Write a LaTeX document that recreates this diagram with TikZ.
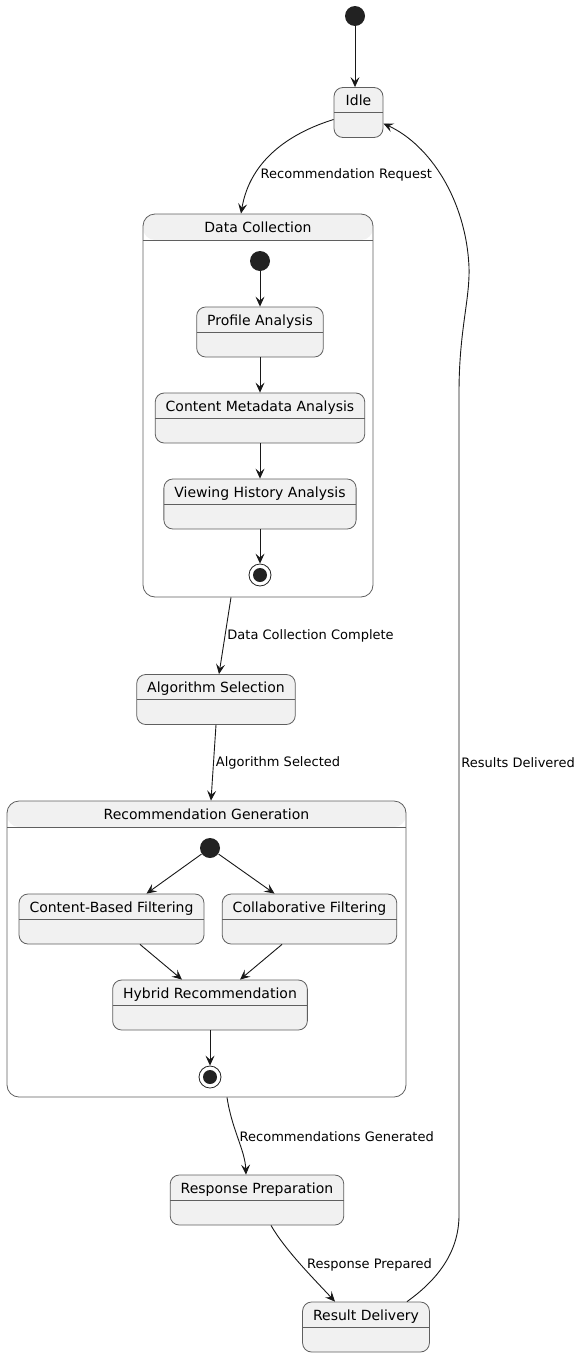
\documentclass[tikz,border=0pt]{standalone}
\usepackage{fontspec}
\setmainfont{DejaVu Sans}
\usetikzlibrary{arrows.meta}
\definecolor{stfill}{HTML}{F1F1F1}
\definecolor{stline}{HTML}{5F5F5F}
\definecolor{dotcol}{HTML}{222222}
\definecolor{arrcol}{HTML}{181818}
\tikzset{>={Stealth[length=10pt,width=9pt,inset=4pt]}}
\tikzstyle{state} = [draw=stline, fill=stfill, rectangle, rounded corners=9pt,
    minimum width=49pt, minimum height=50pt, inner xsep=10.5pt, inner ysep=5pt,
    text height=13pt, text depth=27pt, line width=0.8pt,
    font=\fontsize{14}{16}\selectfont,
    path picture={\draw[stline, line width=0.8pt]
        ([yshift=-25pt]path picture bounding box.north west) --
        ([yshift=-25pt]path picture bounding box.north east);}]
\tikzstyle{compound} = [draw=stline, fill=white, rectangle, rounded corners=12pt,
    inner ysep=5pt, text height=13pt, line width=0.8pt,
    font=\fontsize{14}{16}\selectfont,
    path picture={\fill[stfill]
        (path picture bounding box.north west) rectangle
        ([yshift=-26pt]path picture bounding box.north east);
      \draw[stline, line width=0.8pt]
        ([yshift=-26pt]path picture bounding box.north west) --
        ([yshift=-26pt]path picture bounding box.north east);}]
\tikzstyle{init} = [circle, fill=dotcol, minimum size=20pt, inner sep=0pt]
\tikzstyle{final} = [circle, draw=dotcol, fill=white, minimum size=22pt,
    inner sep=0pt, line width=0.8pt,
    path picture={\fill[dotcol] (path picture bounding box.center) circle (7pt);}]
\tikzstyle{lbl} = [font=\fontsize{13}{15}\selectfont, anchor=west, inner sep=2pt]

\begin{document}
\begin{tikzpicture}[x=1pt, y=-1pt, line width=0.9pt]
    \useasboundingbox (0,0) rectangle (581,1357);
    % We start by placing the outer states
    \node [init] (start) at (355,16) {};
    \node [state] (idle) at (358.5,112.5) {Idle};
    \node [compound, minimum width=230pt, text depth=360pt] (collect) at (258,405.5) {Data Collection};
    \node [state] (algo) at (216,699.5) {Algorithm Selection};
    \node [compound, minimum width=399pt, text depth=273pt] (generate) at (206.5,949) {Recommendation Generation};
    \node [state] (prepare) at (257,1200) {Response Preparation};
    \node [state] (deliver) at (366,1327) {Result Delivery};

    % Inner states of the data collection
    \node [init] (cstart) at (260,261) {};
    \node [state] (profile) at (260,332) {Profile Analysis};
    \node [state] (meta) at (260,418) {Content Metadata Analysis};
    \node [state] (history) at (260,504) {Viewing History Analysis};
    \node [final] (cend) at (260,575) {};

    % Inner states of the recommendation generation
    \node [init] (gstart) at (210,848) {};
    \node [state] (content) at (111.5,919) {Content-Based Filtering};
    \node [state] (collab) at (309.5,919) {Collaborative Filtering};
    \node [state] (hybrid) at (210,1005) {Hybrid Recommendation};
    \node [final] (gend) at (210,1077) {};

    % Once the states are placed, connecting them is easy.
    \begin{scope}[draw=arrcol]
    \draw [->] (start) -- (start |- idle.north);
    \draw [->] ([yshift=-7pt]idle.west) .. controls (290,133) and (250,160) ..
        node [lbl, pos=0.72, xshift=3pt] {Recommendation Request} ([xshift=-17pt]collect.north);
    \draw [->] ([xshift=-27pt]collect.south) --
        node [lbl, pos=0.5] {Data Collection Complete} ([xshift=3pt]algo.north);
    \draw [->] (algo.south) --
        node [lbl, pos=0.5] {Algorithm Selected} ([xshift=4.5pt]generate.north);
    \draw [->] ([xshift=20.5pt]generate.south) .. controls (232,1130) and (245,1150) ..
        node [lbl, pos=0.47] {Recommendations Generated} ([xshift=-11pt]prepare.north);
    \draw [->] ([xshift=14pt]prepare.south) .. controls (285,1250) and (315,1280) ..
        node [lbl, pos=0.5, xshift=4pt] {Response Prepared} ([xshift=-31pt]deliver.north);
    \draw [->] ([xshift=41pt]deliver.north) .. controls (440,1278) and (459,1250) .. (459,1215)
        -- node [lbl, pos=0.55] {Results Delivered} (459,393)
        .. controls (459,330) and (470,300) .. (469,267)
        .. controls (466,200) and (430,145) .. ([yshift=-11pt]idle.east);

    \draw [->] (cstart) -- (profile);
    \draw [->] (profile) -- (meta);
    \draw [->] (meta) -- (history);
    \draw [->] (history) -- (cend);

    \draw [->] (gstart) -- ([xshift=35pt]content.north);
    \draw [->] (gstart) -- ([xshift=-35pt]collab.north);
    \draw [->] ([xshift=28.5pt]content.south) -- ([xshift=-28pt]hybrid.north);
    \draw [->] ([xshift=-27.5pt]collab.south) -- ([xshift=30pt]hybrid.north);
    \draw [->] (hybrid) -- (gend);
    \end{scope}
\end{tikzpicture}
\end{document}
